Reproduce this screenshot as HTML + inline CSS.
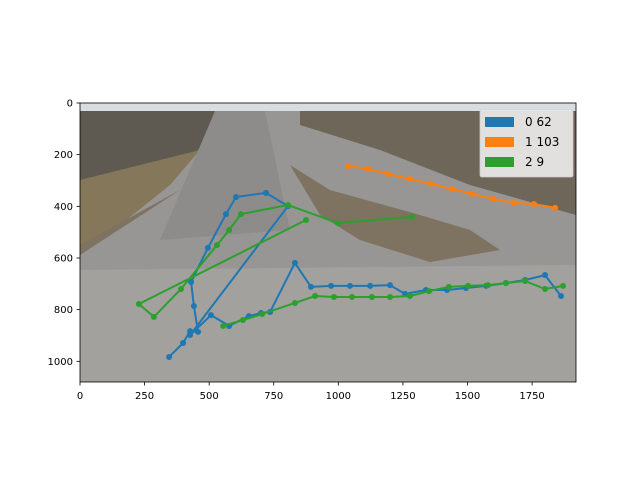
<!DOCTYPE html>
<html><head><meta charset="utf-8"><style>
body{margin:0;background:#fff;font-family:"Liberation Sans",sans-serif}
text{font-family:"DejaVu Sans","Liberation Sans",sans-serif}
</style></head><body>
<svg width="640" height="480" viewBox="0 0 640 480">
<g id="bg">
<rect x="80" y="103" width="496" height="279" fill="#979694"/>
<rect x="80" y="103" width="496" height="8" fill="#d8dde2"/>
<polygon points="80,111 232,111 210,140 150,190 80,215" fill="#5e5a52"/>
<polygon points="80,180 200,150 170,185 120,225 80,255" fill="#84775a"/>
<polygon points="80,255 180,190 80,245" fill="#7e7260"/>
<polygon points="300,111 576,111 576,215 470,185 380,150 300,125" fill="#6f665a"/>
<polygon points="290,165 330,190 420,215 470,230 500,250 430,262 360,240 320,215" fill="#7e7260"/>
<polygon points="80,270 576,265 576,382 80,382" fill="#a2a19d"/>
<polygon points="215,111 265,111 290,230 160,240" fill="#8d8c8a"/>
</g>
<g id="marks"></g>
<rect x="80" y="103" width="496" height="279" fill="none" stroke="#000" stroke-width="0.8"/>
<g id="axes"></g>
<g>
<rect x="480" y="110" width="93" height="67" rx="2" fill="#fff" fill-opacity="0.8" stroke="#ccc" stroke-width="0.8"/>
<rect x="485" y="117" width="29" height="10" fill="#1f77b4"/>
<text x="525" y="126" font-size="12">0 62</text>
<rect x="485" y="137" width="29" height="10" fill="#ff7f0e"/>
<text x="525" y="146" font-size="12">1 103</text>
<rect x="485" y="157" width="29" height="10" fill="#2ca02c"/>
<text x="525" y="166" font-size="12">2 9</text>
</g>
</svg>
<script>
const xTicks=[0,250,500,750,1000,1250,1500,1750];
const yTicks=[0,200,400,600,800,1000];
const track0X=[345,399,426,457,441,430,495,565,604,720,805,426,507,577,654,701,736,832,894,972,1045,1123,1200,1258,1339,1421,1494,1572,1649,1723,1800,1862];
const track0Y=[983,929,883,886,786,693,561,430,364,348,399,898,821,863,825,813,809,619,712,708,708,708,705,739,724,724,716,708,697,685,666,747];
const track1X=[1037,1115,1192,1277,1359,1440,1517,1599,1680,1757,1839];
const track1Y=[244,255,275,294,313,333,352,371,387,391,406];
const track2X=[1285,999,805,623,577,530,391,286,228,875,null,554,631,705,832,910,983,1053,1130,1200,1277,1351,1428,1502,1579,1649,1723,1800,1870];
const track2Y=[441,465,395,430,492,550,720,828,778,453,null,863,840,817,774,747,751,751,751,751,747,728,712,708,705,697,689,720,708];
const W=1920,H=1080,X0=80,Y0=103,PW=496,PH=279;
const sx=v=>X0+v/W*PW, sy=v=>Y0+v/H*PH;
const NS='http://www.w3.org/2000/svg';
const marks=document.getElementById('marks'), axes=document.getElementById('axes');
function mk(t,a,p){const e=document.createElementNS(NS,t);for(const k in a)e.setAttribute(k,a[k]);p.appendChild(e);return e;}
function track(xs,ys,color,name){
  let d='',pen=false;
  xs.forEach((x,i)=>{if(x===null){pen=false;return;}d+=(pen?'L':'M')+sx(x).toFixed(1)+','+sy(ys[i]).toFixed(1);pen=true;});
  const p=mk('path',{d:d,fill:'none',stroke:color,'stroke-width':2},marks);
  
  
  xs.forEach((x,i)=>{if(x===null)return;
    const c=mk('circle',{cx:sx(x),cy:sy(ys[i]),r:3,fill:color},marks);
    
    
  });
}
track(track0X,track0Y,'#1f77b4','track-0');
track(track1X,track1Y,'#ff7f0e','track-1');
track(track2X,track2Y,'#2ca02c','track-2');
xTicks.forEach(v=>{
  const l=mk('line',{x1:sx(v),x2:sx(v),y1:382,y2:385.5,stroke:'#000','stroke-width':0.8},axes);
  
  
  const t=mk('text',{x:sx(v),y:399,'font-size':10,'text-anchor':'middle'},axes);
  t.textContent=v;
  
  
});
yTicks.forEach(v=>{
  const l=mk('line',{x1:76.5,x2:80,y1:sy(v),y2:sy(v),stroke:'#000','stroke-width':0.8},axes);
  
  
  const t=mk('text',{x:73,y:sy(v)+3.5,'font-size':10,'text-anchor':'end'},axes);
  t.textContent=v;
  
  
});
</script>
</body></html>
